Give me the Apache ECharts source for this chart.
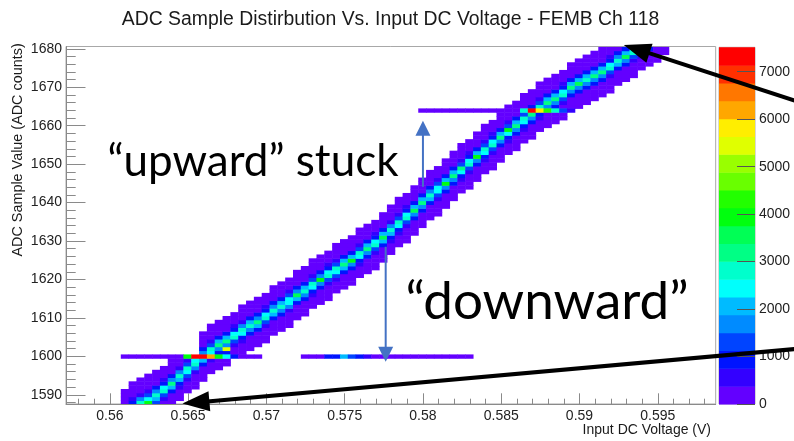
<!DOCTYPE html>
<html>
<head>
<meta charset="utf-8">
<script src="https://cdn.jsdelivr.net/npm/echarts@6/dist/echarts.min.js"></script>
<style>
  html, body { margin: 0; padding: 0; background: #fff; }
  #chart { width: 794px; height: 441px; }
</style>
</head>
<body>
<div id="chart"></div>
<script>
// ---- histogram binning ----
const voltMin = 0.5572, voltMax = 0.5987, voltStep = 0.0005;
const adcMin = 1587.6, adcMax = 1680.6;
const countMax = 7514;

// ---- tick labels ----
const voltTicks = [0.56, 0.565, 0.57, 0.575, 0.58, 0.585, 0.59, 0.595];
const adcTicks = [1590, 1600, 1610, 1620, 1630, 1640, 1650, 1660, 1670, 1680];
const countTicks = [0, 1000, 2000, 3000, 4000, 5000, 6000, 7000];

// ---- ADC code distribution per voltage bin ----
// each entry: [lowest ADC code, counts for consecutive codes upward]
const firstBandBin = 7;
const bandColumns = [
  [1588, [310, 120, 35, 12]],
  [1588, [1050, 450, 150, 50, 15, 6]],
  [1588, [2700, 1600, 620, 290, 100, 35, 12]],
  [1588, [3800, 2600, 1300, 600, 260, 100, 30, 10]],
  [1588, [1200, 2100, 3000, 1800, 800, 350, 120, 40, 12]],
  [1588, [260, 700, 1450, 2900, 2300, 1050, 440, 150, 50, 15]],
  [1588, [50, 150, 360, 790, 1900, 3300, 1850, 860, 320, 140, 45, 15]],
  [1589, [15, 45, 160, 380, 950, 2100, 3000, 1700, 700, 280, 110]],
  [1591, [18, 55, 170, 420, 1150, 2300, 2900, 1450, 600]],
  [1592, [12, 35, 120, 260, 640, 1550, 2700, 2300]],
  [1594, [15, 40, 150, 330, 800, 1900, 0, 1850, 850, 310, 120, 40, 15]],
  [1596, [20, 60, 170, 440, 0, 2400, 2750, 1500, 640, 280, 100, 30, 12]],
  [1597, [15, 45, 130, 0, 830, 1800, 3200, 1950, 800, 320, 120, 40, 15]],
  [1598, [12, 40, 0, 900, 5400, 1850, 3100, 1900, 830, 330, 130, 40, 14]],
  [1600, [0, 120, 260, 640, 1500, 2900, 2300, 1100, 410, 170, 50, 15]],
  [1601, [15, 55, 170, 420, 1100, 2400, 2750, 1550, 630, 270, 110, 30, 12]],
  [1602, [14, 40, 140, 330, 850, 1800, 3000, 2100, 800, 340, 120, 40, 14]],
  [1603, [12, 35, 130, 350, 780, 1900, 3300, 1800, 850, 320, 140, 45, 15]],
  [1604, [10, 30, 100, 280, 660, 1450, 2750, 2400, 1100, 420, 160, 50, 18]],
  [1606, [15, 45, 150, 360, 900, 2000, 3000, 1750, 760, 300, 120, 35, 12]],
  [1607, [12, 35, 130, 310, 760, 1700, 3000, 2050, 900, 360, 140, 45, 15]],
  [1608, [10, 30, 110, 260, 640, 1550, 2600, 2500, 1150, 440, 170, 55, 18]],
  [1610, [15, 45, 150, 350, 880, 1950, 3400, 1800, 780, 310, 120, 40, 14]],
  [1611, [14, 40, 140, 330, 800, 1800, 2900, 2000, 870, 340, 140, 45, 15]],
  [1613, [18, 55, 170, 440, 1100, 2300, 2850, 1450, 640, 260, 100, 30, 10]],
  [1614, [14, 40, 140, 340, 820, 1850, 3800, 1700, 780, 320, 120, 40, 14]],
  [1615, [10, 30, 110, 270, 650, 1500, 2800, 2350, 1100, 430, 160, 55, 18]],
  [1617, [18, 55, 160, 420, 1150, 2400, 2700, 1500, 660, 270, 110, 30, 10]],
  [1618, [14, 40, 140, 350, 820, 1900, 3200, 2000, 820, 330, 130, 40, 14]],
  [1619, [14, 40, 130, 320, 800, 1750, 3900, 1950, 860, 340, 130, 40, 14]],
  [1621, [18, 55, 165, 430, 1100, 2300, 2800, 1500, 650, 270, 110, 30, 10]],
  [1622, [14, 40, 140, 340, 820, 1850, 3100, 1900, 830, 330, 130, 40, 14]],
  [1623, [10, 30, 110, 270, 650, 1500, 2900, 2300, 1100, 430, 160, 55, 18]],
  [1625, [14, 40, 140, 340, 820, 2000, 3500, 1900, 830, 330, 130, 40, 14]],
  [1627, [15, 45, 150, 380, 950, 2050, 3000, 1750, 750, 300, 120, 35, 12]],
  [1629, [18, 55, 160, 430, 1100, 2350, 2800, 1500, 650, 270, 110, 30, 10]],
  [1630, [10, 30, 110, 270, 650, 1500, 2800, 2350, 1100, 430, 160, 55, 18]],
  [1632, [14, 40, 140, 330, 800, 1800, 3700, 2000, 860, 340, 130, 40, 14]],
  [1634, [14, 40, 140, 340, 820, 1850, 3100, 1900, 830, 330, 130, 40, 14]],
  [1636, [15, 45, 150, 370, 930, 2000, 3000, 1750, 760, 300, 120, 35, 12]],
  [1637, [10, 30, 110, 270, 650, 1500, 2600, 2600, 1150, 430, 160, 55, 18]],
  [1639, [14, 40, 140, 330, 800, 1800, 4000, 2000, 860, 340, 130, 40, 14]],
  [1641, [14, 40, 140, 340, 820, 1850, 3100, 1900, 830, 330, 130, 40, 14]],
  [1643, [18, 55, 160, 430, 1100, 2350, 3300, 1500, 650, 270, 110, 30, 10]],
  [1644, [10, 30, 110, 270, 650, 1500, 2800, 2350, 1100, 430, 160, 55, 18]],
  [1646, [14, 40, 140, 340, 820, 1850, 3800, 1900, 830, 330, 130, 40, 14]],
  [1648, [18, 55, 160, 430, 1100, 2350, 2800, 1500, 650, 270, 110, 30, 10]],
  [1649, [10, 30, 110, 270, 650, 1500, 2900, 2350, 1100, 430, 160, 55, 18]],
  [1651, [14, 40, 140, 340, 820, 1850, 3100, 1900, 830, 330, 130, 40, 14]],
  [1653, [18, 55, 160, 430, 1100, 2350, 3900, 1500, 650, 270, 110, 30, 10]],
  [1654, [14, 40, 140, 340, 820, 1850, 3100, 1900, 830, 330, 130, 40, 14]],
  [1656, [18, 55, 160, 430, 1100, 2350, 2800, 1500, 0, 270, 110, 30, 10]],
  [1657, [14, 40, 140, 340, 820, 1850, 3100, 0, 830, 330, 130, 40, 14]],
  [1659, [18, 55, 160, 430, 1100, 0, 2800, 1500, 650, 270, 110, 30, 10]],
  [1660, [14, 40, 140, 340, 0, 1850, 3100, 1900, 830, 330, 130, 40, 14]],
  [1661, [14, 40, 140, 0, 820, 1850, 3100, 1900, 830, 330, 130, 40, 14]],
  [1662, [10, 30, 0, 270, 650, 1500, 2800, 2350, 1100, 430, 160, 55, 18]],
  [1665, [40, 140, 340, 820, 1850, 3100, 1900, 830, 330, 130, 40, 14]],
  [1665, [14, 40, 140, 340, 820, 1850, 3600, 1900, 830, 330, 130, 40, 14]],
  [1666, [12, 35, 130, 320, 780, 1800, 3000, 2050, 880, 350, 135, 45, 15]],
  [1667, [14, 40, 140, 340, 820, 1850, 3100, 1900, 830, 330, 130, 40, 14]],
  [1668, [14, 40, 140, 340, 820, 1850, 3100, 1900, 830, 330, 130, 40, 14]],
  [1669, [10, 30, 110, 270, 650, 1500, 2800, 2350, 1100, 430, 160, 55]],
  [1671, [15, 45, 150, 370, 920, 2000, 3000, 1750, 760, 300]],
  [1672, [14, 40, 140, 330, 800, 1800, 3400, 2000, 860]],
  [1673, [10, 30, 110, 270, 650, 1500, 2800, 2350]],
  [1675, [18, 55, 160, 430, 1100, 2350]],
  [1676, [14, 40, 140, 340, 820]],
  [1677, [14, 40, 140, 340]],
  [1679, [15, 45]]
];

// ---- stuck codes: counts recorded at the stuck code, per voltage bin ----
const lowStuckCode = 1600;
const lowStuckFirstBins = [7, 30];
const lowStuckCounts = [
  [120, 150, 110, 160, 140, 200, 260, 330, 4000, 7300, 7400, 6300, 3900, 2600, 1100, 330, 210, 120],
  [140, 180, 260, 850, 1050, 2100, 1200, 900, 480, 300, 220, 180, 150, 160, 130, 120, 110, 130, 100, 110, 90, 80]
];
const highStuckCode = 1664;
const highStuckFirstBin = 45;
const highStuckCounts = [120, 140, 110, 150, 130, 160, 150, 170, 190, 200, 230, 260, 300, 2700, 7300, 5900, 4200, 2900, 1300, 400];

// ---- annotation anchors (voltage, ADC code) ----
const upArrowPts = [[0.58, 1644.1], [0.58, 1661.3]];
const downArrowPts = [[0.57762, 1628.5], [0.57762, 1598.6]];
const topPointerPts = [[0.60377, 1666.5], [0.59283, 1681.0]];
const bottomPointerPts = [[0.60377, 1601.9], [0.56464, 1587.7]];
const upLabelPos = [0.55985, 1650.5];
const downLabelPos = [0.57889, 1614.2];

// ROOT rainbow palette, 20 contour levels
const palette = [
  '#6300ff', '#3300ff', '#0014ff', '#0044ff', '#008bff',
  '#00bbff', '#00fffc', '#00ffcc', '#00ff85', '#00ff55',
  '#00ff0e', '#22ff00', '#69ff00', '#99ff00', '#e0ff00',
  '#ffee00', '#ffa700', '#ff7700', '#ff3000', '#ff0000'
];
const levelStep = countMax / palette.length;
function colorOf(v) {
  return palette[Math.min(palette.length - 1, Math.floor(v / levelStep))];
}

// ---- assemble cells ----
const cells = new Map();
bandColumns.forEach(([row0, counts], i) => {
  const bin = firstBandBin + i;
  counts.forEach((c, j) => { if (c > 0) cells.set(bin + ':' + (row0 + j), c); });
});
lowStuckCounts.forEach((seg, s) => {
  seg.forEach((c, j) => cells.set((lowStuckFirstBins[s] + j) + ':' + lowStuckCode, c));
});
highStuckCounts.forEach((c, j) => cells.set((highStuckFirstBin + j) + ':' + highStuckCode, c));

const heatData = [];
cells.forEach((c, key) => {
  const [bin, row] = key.split(':').map(Number);
  heatData.push([voltMin + (bin + 0.5) * voltStep, row, c]);
});

const levelData = palette.map((_, k) => [k * levelStep, (k + 1) * levelStep, k]);

// minor tick positions
const voltMinor = [];
for (let t = 558; t <= 598; t++) voltMinor.push(t / 1000);
const adcMinor = [];
for (let t = 1588; t <= 1680; t += 2) adcMinor.push(t);

const axisGray = '#8a8a8a';
const labelFont = 'Liberation Sans';

const chart = echarts.init(document.getElementById('chart'), null, { renderer: 'canvas' });

const option = {
  animation: false,
  backgroundColor: '#fff',
  grid: [
    { left: 66, top: 46.5, width: 649.7, height: 357.5, show: true, borderColor: '#a8a8a8', borderWidth: 1, backgroundColor: 'transparent' },
    { left: 719, top: 47.3, width: 36, height: 356.7, show: true, borderColor: '#b0b0b0', borderWidth: 1 }
  ],
  xAxis: [
    {
      type: 'value', gridIndex: 0, min: voltMin, max: voltMax, position: 'bottom',
      axisLine: { show: true, onZero: false, lineStyle: { color: axisGray } },
      axisTick: { show: true, inside: true, length: 10.7, customValues: voltTicks, lineStyle: { color: axisGray } },
      axisLabel: { customValues: voltTicks, formatter: v => String(+v.toFixed(3)), fontFamily: labelFont, fontSize: 14, color: '#222', margin: 5 },
      splitLine: { show: false }
    },
    {
      type: 'value', gridIndex: 0, min: voltMin, max: voltMax, position: 'bottom',
      axisLine: { show: false, onZero: false },
      axisTick: { show: true, inside: true, length: 5.3, customValues: voltMinor, lineStyle: { color: axisGray } },
      axisLabel: { show: false },
      splitLine: { show: false }
    },
    { type: 'value', gridIndex: 1, min: 0, max: 1, show: false }
  ],
  yAxis: [
    {
      type: 'value', gridIndex: 0, min: adcMin, max: adcMax, position: 'left',
      axisLine: { show: true, onZero: false, lineStyle: { color: axisGray } },
      axisTick: { show: true, inside: true, length: 19.5, customValues: adcTicks, lineStyle: { color: axisGray } },
      axisLabel: { customValues: adcTicks, formatter: v => String(v), fontFamily: labelFont, fontSize: 14, color: '#222', margin: 4 },
      splitLine: { show: false }
    },
    {
      type: 'value', gridIndex: 0, min: adcMin, max: adcMax, position: 'left',
      axisLine: { show: false, onZero: false },
      axisTick: { show: true, inside: true, length: 9.7, customValues: adcMinor, lineStyle: { color: axisGray } },
      axisLabel: { show: false },
      splitLine: { show: false }
    },
    {
      type: 'value', gridIndex: 1, min: 0, max: countMax, position: 'right', z: 10,
      axisLine: { show: false, onZero: false },
      axisTick: { show: true, inside: true, length: 18, customValues: countTicks, lineStyle: { color: '#555' } },
      axisLabel: { customValues: countTicks, formatter: v => String(v), fontFamily: labelFont, fontSize: 14, color: '#222', margin: 4 },
      splitLine: { show: false }
    }
  ],
  series: [
    {
      type: 'custom',
      xAxisIndex: 0, yAxisIndex: 0,
      data: heatData,
      renderItem(params, api) {
        const x = api.value(0), y = api.value(1), v = api.value(2);
        const p0 = api.coord([x - voltStep / 2, y + 0.5]);
        const p1 = api.coord([x + voltStep / 2, y - 0.5]);
        const rect = echarts.graphic.clipRectByRect(
          { x: p0[0], y: p0[1], width: p1[0] - p0[0] + 0.5, height: p1[1] - p0[1] + 0.5 },
          { x: params.coordSys.x, y: params.coordSys.y, width: params.coordSys.width, height: params.coordSys.height }
        );
        if (!rect) return;
        return { type: 'rect', shape: rect, style: { fill: colorOf(v) } };
      }
    },
    {
      type: 'custom',
      xAxisIndex: 2, yAxisIndex: 2,
      z: 1,
      data: levelData,
      renderItem(params, api) {
        const p0 = api.coord([0, api.value(1)]);
        const p1 = api.coord([1, api.value(0)]);
        return {
          type: 'rect',
          shape: { x: p0[0], y: p0[1], width: p1[0] - p0[0], height: p1[1] - p0[1] + 0.5 },
          style: { fill: palette[api.value(2)] }
        };
      }
    }
  ]
};

chart.setOption(option);

// ---- annotations ----
function px(p) { return chart.convertToPixel({ gridIndex: 0 }, p); }
function arrow(tailData, tipData, color, lw, headLen, headHalf) {
  const tail = px(tailData), tip = px(tipData);
  const dx = tip[0] - tail[0], dy = tip[1] - tail[1];
  const len = Math.hypot(dx, dy), ux = dx / len, uy = dy / len;
  const bx = tip[0] - ux * headLen, by = tip[1] - uy * headLen;
  return [
    { type: 'line', z: 100, shape: { x1: tail[0], y1: tail[1], x2: bx + ux * 2, y2: by + uy * 2 }, style: { stroke: color, lineWidth: lw } },
    { type: 'polygon', z: 100, shape: { points: [tip, [bx - uy * headHalf, by + ux * headHalf], [bx + uy * headHalf, by - ux * headHalf]] }, style: { fill: color } }
  ];
}

const upLabel = px(upLabelPos), downLabel = px(downLabelPos);
const calloutBlue = '#4472c4';

chart.setOption({
  graphic: [
    { type: 'text', z: 100, x: 390.5, y: 19.5,
      style: { text: 'ADC Sample Distirbution Vs. Input DC Voltage - FEMB Ch 118', font: '19.4px "Liberation Sans"', fill: '#1a1a1a', align: 'center', verticalAlign: 'middle' } },
    { type: 'text', z: 100, x: 18, y: 43.3, rotation: Math.PI / 2,
      style: { text: 'ADC Sample Value (ADC counts)', font: '14.4px "Liberation Sans"', fill: '#1a1a1a', align: 'right', verticalAlign: 'middle' } },
    { type: 'text', z: 100, x: 711, y: 430,
      style: { text: 'Input DC Voltage (V)', font: '14px "Liberation Sans"', fill: '#1a1a1a', align: 'right', verticalAlign: 'middle' } },
    { type: 'text', z: 100, x: upLabel[0], y: upLabel[1],
      style: { text: '\u201Cupward\u201D stuck', font: '44px Lato', fill: '#000', align: 'left', verticalAlign: 'middle' } },
    { type: 'text', z: 100, x: downLabel[0], y: downLabel[1],
      style: { text: '\u201Cdownward\u201D', font: '53px Lato', fill: '#000', align: 'left', verticalAlign: 'middle' } },
    ...arrow(upArrowPts[0], upArrowPts[1], calloutBlue, 2, 15, 7.5),
    ...arrow(downArrowPts[0], downArrowPts[1], calloutBlue, 2, 15, 7.5),
    ...arrow(topPointerPts[0], topPointerPts[1], '#000', 4, 27, 10),
    ...arrow(bottomPointerPts[0], bottomPointerPts[1], '#000', 4, 27, 10)
  ]
});
</script>
</body>
</html>
